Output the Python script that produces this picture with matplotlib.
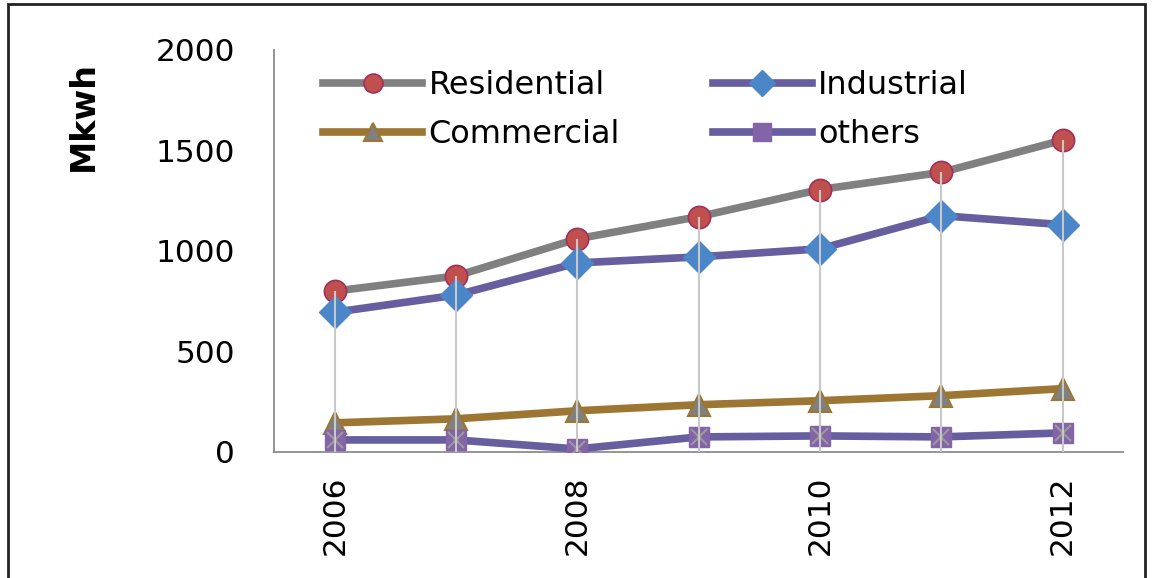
import matplotlib.pyplot as plt
from matplotlib.patches import Rectangle

plt.rcParams['font.family'] = ['DejaVu Sans']

# data (Mkwh)
years = [2006, 2007, 2008, 2009, 2010, 2011, 2012]
residential = [800, 875, 1060, 1170, 1305, 1390, 1550]
industrial = [695, 780, 940, 970, 1010, 1175, 1130]
commercial = [145, 165, 205, 235, 255, 280, 315]
others = [60, 60, 15, 75, 80, 75, 95]
tick_years = [2006, 2008, 2010, 2012]

fig = plt.figure(figsize=(11.52, 5.78), dpi=100)
ax = fig.add_axes([0.238, 0.218, 0.737, 0.696])

# drop lines from the highest series down to zero
top = [max(v) for v in zip(residential, industrial, commercial, others)]

lw = 5.5
h1, = ax.plot(years, residential, color='#808080', lw=lw, marker='o', ms=16,
              mfc='#C0504D', mec='#A0305A', mew=1.2, label='Residential', zorder=3)
h2, = ax.plot(years, industrial, color='#665E9E', lw=lw, marker='D', ms=16,
              mfc='#4A86C8', mec='#4A86C8', label='Industrial', zorder=3)
h3, = ax.plot(years, commercial, color='#9C7632', lw=lw, marker='^', ms=16,
              mfc='#808080', mec='#9C7632', mew=1.5, label='Commercial', zorder=3)
h4, = ax.plot(years, others, color='#665E9E', lw=lw, marker='s', ms=15,
              mfc='#8464A8', mec='#8464A8', label='others', zorder=3)
ax.plot(years, others, ls='none', marker='x', ms=12, mec='#9A9A9A', mew=1.5, zorder=4)

# drop lines drawn over the markers like the original
ax.vlines(years, 0, top, color='#C8C8C8', lw=1.5, zorder=5)

ax.set_xlim(2005.5, 2012.5)
ax.set_ylim(0, 2000)
ax.set_yticks([0, 500, 1000, 1500, 2000])
ax.set_xticks(tick_years)
ax.set_xticklabels([str(y) for y in tick_years], rotation=90)
ax.tick_params(length=0, labelsize=22.5, pad=17)
ax.tick_params(axis='y', pad=28)
for s in ['top', 'right']:
    ax.spines[s].set_visible(False)
for s in ['left', 'bottom']:
    ax.spines[s].set_color('#8C8C8C')
    ax.spines[s].set_linewidth(1.3)

ax.set_ylabel('Mkwh', fontsize=24, fontweight='bold')
ax.yaxis.set_label_coords(-0.205, 0.835)

# row-wise order: Residential, Industrial / Commercial, others
ax.legend([h1, h3, h2, h4], ['Residential', 'Commercial', 'Industrial', 'others'],
          loc='upper left', bbox_to_anchor=(0.024, 1.02), ncol=2, frameon=False,
          fontsize=23, handlelength=3.1, handletextpad=0.2, columnspacing=2.9,
          labelspacing=0.56, markerscale=0.85)

fig.patches.append(Rectangle((0.007, -0.01), 0.987, 1.003, transform=fig.transFigure,
                             fill=False, edgecolor='#222222', lw=2))

fig.savefig('out.png', dpi=100)
